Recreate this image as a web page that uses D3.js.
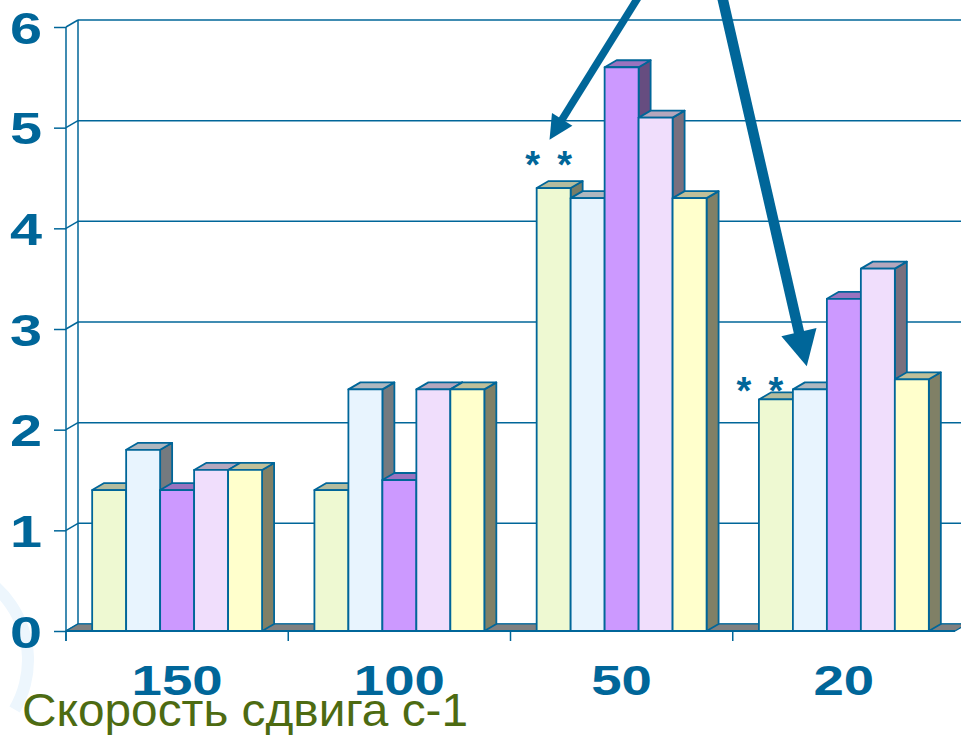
<!DOCTYPE html>
<html>
<head>
<meta charset="utf-8">
<script src="https://cdn.jsdelivr.net/npm/d3@7/dist/d3.min.js"></script>
<style>
  html, body { margin: 0; padding: 0; background: #ffffff; }
  svg { display: block; }
</style>
</head>
<body>
<svg id="chart" width="961" height="735"></svg>
<script>
// Shear rates (s-1) and the five measured series
const categories = ["150", "100", "50", "20"];
const series1 = [1.4, 1.4, 4.4, 2.3];
const series2 = [1.8, 2.4, 4.3, 2.4];
const series3 = [1.4, 1.5, 5.6, 3.3];
const series4 = [1.6, 2.4, 5.1, 3.6];
const series5 = [1.6, 2.4, 4.3, 2.5];
const seriesColors = ["#eef9d2", "#e8f4fe", "#cc99ff", "#f0defc", "#ffffcc"];
const yTickValues = [0, 1, 2, 3, 4, 5, 6];
const axisTitle = "Скорость сдвига с-1";
// significance marks: category and value level
const marks = [
  { category: "50", value: 4.72 },
  { category: "20", value: 2.47 }
];

const allSeries = [series1, series2, series3, series4, series5];
const blue = "#006699";
const W = 961, H = 735;
const DX = 12, DY = -7;       // 3-D depth offset
const svg = d3.select("#chart");

const x = d3.scaleBand().domain(categories).range([66, 955]).paddingInner(0).paddingOuter(0);
const xs = d3.scaleBand().domain(d3.range(allSeries.length)).range([0, x.bandwidth()]).paddingInner(0).paddingOuter(0.77);
const y = d3.scaleLinear().domain([0, 6]).range([631, 27]);

function scaleColor(c, k) {
  const r = d3.rgb(c);
  return d3.rgb(r.r * k, r.g * k, r.b * k).formatHex();
}

// faint background ring at lower left
svg.append("path")
  .attr("d", d3.arc()({ innerRadius: 92, outerRadius: 104, startAngle: -0.15, endAngle: 2.1 }))
  .attr("transform", "translate(-70,660)")
  .attr("fill", "#edf6fd");

const x0 = x.range()[0], x1 = x.range()[1];
const yTop = y(6), yBase = y(0);

// back wall: gridlines
const grid = svg.append("g");
yTickValues.forEach(v => {
  grid.append("line")
    .attr("x1", x0 + DX).attr("x2", W + 5)
    .attr("y1", y(v) + DY).attr("y2", y(v) + DY)
    .attr("stroke", blue).attr("stroke-width", 1.5);
  grid.append("line")
    .attr("x1", x0).attr("y1", y(v))
    .attr("x2", x0 + DX).attr("y2", y(v) + DY)
    .attr("stroke", blue).attr("stroke-width", 1.5);
});
// side wall verticals
grid.append("line").attr("x1", x0 + DX).attr("x2", x0 + DX)
  .attr("y1", yTop + DY).attr("y2", yBase + DY)
  .attr("stroke", blue).attr("stroke-width", 1.5);

// floor
svg.append("path")
  .attr("d", `M${x0},${yBase}L${x1},${yBase}L${x1 + DX},${yBase + DY}L${x0 + DX},${yBase + DY}Z`)
  .attr("fill", "#808080").attr("stroke", blue).attr("stroke-width", 1.2).attr("stroke-linejoin", "round");

// 3-D bars, drawn left to right so each front face covers the previous side face
const bars = svg.append("g");
categories.forEach((cat, ci) => {
  allSeries.forEach((s, si) => {
    const v = s[ci];
    const bx = x(cat) + xs(si);
    const bw = xs.bandwidth();
    const top = y(v), bot = y(0);
    const col = seriesColors[si];
    const g = bars.append("g")
      .attr("stroke", blue).attr("stroke-width", 1.8).attr("stroke-linejoin", "round");
    // side
    g.append("path")
      .attr("d", `M${bx + bw},${bot}L${bx + bw + DX},${bot + DY}L${bx + bw + DX},${top + DY}L${bx + bw},${top}Z`)
      .attr("fill", scaleColor(col, 0.5));
    // top
    g.append("path")
      .attr("d", `M${bx},${top}L${bx + DX},${top + DY}L${bx + bw + DX},${top + DY}L${bx + bw},${top}Z`)
      .attr("fill", scaleColor(col, 0.75));
    // front
    g.append("rect")
      .attr("x", bx).attr("y", top).attr("width", bw).attr("height", bot - top)
      .attr("fill", col);
  });
});

// front axis lines
svg.append("line").attr("x1", x0).attr("x2", x1).attr("y1", yBase).attr("y2", yBase)
  .attr("stroke", blue).attr("stroke-width", 2);

// Y axis
const yAxis = svg.append("g")
  .attr("transform", `translate(${x0},0)`)
  .call(d3.axisLeft(y).tickValues(yTickValues).tickSize(12).tickFormat(d3.format("d")));
yAxis.select(".domain").attr("stroke", blue).attr("stroke-width", 1.5)
  .attr("d", `M0,${yTop}V${yBase + 10}`);
yAxis.selectAll(".tick line").attr("stroke", blue).attr("stroke-width", 1.5);
yAxis.selectAll(".tick text")
  .attr("x", 0).attr("dy", "0.36em")
  .attr("transform", "translate(-24,0) scale(1.28,1)")
  .attr("fill", blue)
  .style("font-family", "'Liberation Sans', Arial, sans-serif")
  .style("font-weight", "bold")
  .style("font-size", "45px");

// X axis: category labels and separators between groups
const xAxis = svg.append("g")
  .attr("transform", `translate(0,${yBase})`)
  .call(d3.axisBottom(x).tickSize(0).tickPadding(0));
xAxis.select(".domain").remove();
xAxis.selectAll(".tick text")
  .attr("y", 0).attr("dy", 0)
  .attr("transform", "translate(0,64) scale(1.3,1)")
  .attr("fill", blue)
  .style("font-family", "'Liberation Sans', Arial, sans-serif")
  .style("font-weight", "bold")
  .style("font-size", "42px");
categories.forEach(cat => {
  svg.append("line")
    .attr("x1", x(cat)).attr("x2", x(cat))
    .attr("y1", yBase).attr("y2", yBase + 10)
    .attr("stroke", blue).attr("stroke-width", 1.5);
});

// significance asterisks
const starFont = 38;
marks.forEach(m => {
  const cx = x(m.category) + xs(0) + xs.bandwidth() / 2 + (m.category === "50" ? -5 : -16);
  [-16, 16].forEach(off => {
    svg.append("text")
      .attr("x", cx + off).attr("y", y(m.value) + starFont * 0.57)
      .attr("text-anchor", "middle")
      .attr("fill", blue)
      .style("font-family", "'Liberation Sans', Arial, sans-serif")
      .style("font-weight", "bold")
      .style("font-size", starFont + "px")
      .text("*");
  });
});

// pointer arrows from the caption above the chart
function arrow(xa, ya, xb, yb, width, headLen, headHalf) {
  const dx = xb - xa, dy = yb - ya;
  const len = Math.hypot(dx, dy);
  const ux = dx / len, uy = dy / len;
  const px = -uy, py = ux;
  const bx = xb - ux * headLen, by = yb - uy * headLen;
  svg.append("line")
    .attr("x1", xa).attr("y1", ya).attr("x2", bx + ux * 2).attr("y2", by + uy * 2)
    .attr("stroke", blue).attr("stroke-width", width);
  svg.append("path")
    .attr("d", `M${xb},${yb}L${bx + px * headHalf},${by + py * headHalf}L${bx - px * headHalf},${by - py * headHalf}Z`)
    .attr("fill", blue);
}
arrow(639, -4, x("50") + 39, y(4.88), 7.5, 24, 12);
arrow(722, -4, x("20") + 74, y(2.63), 10.5, 35, 18);

// axis title
svg.append("text")
  .attr("x", 22).attr("y", 726)
  .attr("fill", "#4d6b12")
  .attr("textLength", 446)
  .attr("lengthAdjust", "spacingAndGlyphs")
  .style("font-family", "'Liberation Sans', Arial, sans-serif")
  .style("font-size", "45.5px")
  .text(axisTitle);
</script>
</body>
</html>
